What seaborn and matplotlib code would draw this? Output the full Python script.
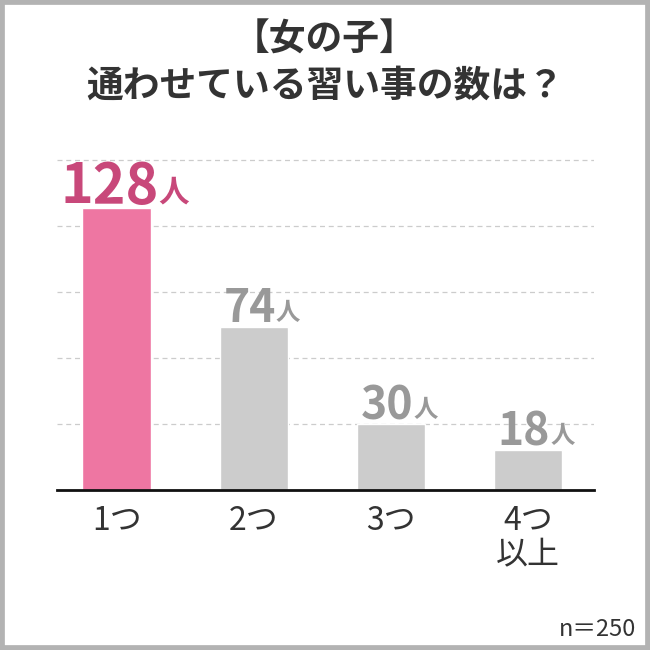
import matplotlib
matplotlib.use("Agg")
import matplotlib.pyplot as plt
import seaborn as sns
import pandas as pd
from matplotlib.patches import Rectangle
from matplotlib.transforms import offset_copy

categories = ["1つ", "2つ", "3つ", "4つ\n以上"]
values = [128, 74, 30, 18]
bar_colors = ["#ee76a2", "#cccccc", "#cccccc", "#cccccc"]
label_colors = ["#c8487a", "#999999", "#999999", "#999999"]
label_sizes = [40, 32, 32, 32]
title = "【女の子】\n通わせている習い事の数は？"
note = "n＝250"

sns.set_theme(style="white")
plt.rcParams['font.family'] = ['Noto Sans CJK JP', 'DejaVu Sans']

df = pd.DataFrame({"cat": categories, "val": values})

fig = plt.figure(figsize=(6.5, 6.5), dpi=100)
ax = fig.add_axes([57/650, 1 - 490/650, (594-57)/650, 341/650])

sns.barplot(data=df, x="cat", y="val", hue="cat", palette=bar_colors,
            width=0.5, legend=False, ax=ax, saturation=1)

ax.set_ylim(0, 155)
ax.set_xlim(-0.435, 3.48)
ax.set_yticks([30, 60, 90, 120, 150])
ax.yaxis.grid(True, color="#cccccc", linestyle=(0, (4, 3)), linewidth=0.9)
ax.set_axisbelow(True)
for s in ["top", "right", "left"]:
    ax.spines[s].set_visible(False)
ax.spines["bottom"].set_color("#111111")
ax.spines["bottom"].set_linewidth(2)
ax.tick_params(axis="y", left=False, labelleft=False)
ax.tick_params(axis="x", bottom=False, labelsize=23, colors="#333333", pad=5)
for t in ax.get_xticklabels():
    t.set_linespacing(1.1)
ax.set_xlabel("")
ax.set_ylabel("")

fig.canvas.draw()
renderer = fig.canvas.get_renderer()
for i, (v, c, fs) in enumerate(zip(values, label_colors, label_sizes)):
    t1 = ax.text(i, v, str(v), ha="left", va="baseline", fontsize=fs,
                 fontweight="bold", color=c)
    t2 = ax.text(i, v, "人", ha="left", va="baseline", fontsize=fs*0.55,
                 fontweight="bold", color=c)
    w1 = t1.get_window_extent(renderer).width
    w2 = t2.get_window_extent(renderer).width
    total = w1 + w2
    t1.set_transform(offset_copy(ax.transData, fig=fig, x=-total/2 + 8, y=5, units="dots"))
    t2.set_transform(offset_copy(ax.transData, fig=fig, x=-total/2 + 8 + w1, y=7, units="dots"))

fig.text(0.5, 1 - 63/650, title, ha="center", va="center", fontsize=26.5,
         fontweight="bold", color="#333333", linespacing=1.3)
fig.text(636/650, 1 - 630/650, note, ha="right", va="center", fontsize=17,
         color="#333333")

fig.patches.append(Rectangle((0, 0), 1, 1, transform=fig.transFigure,
                             fill=False, edgecolor="#b3b3b3", linewidth=7,
                             zorder=10))

fig.savefig("out.png", dpi=100)
